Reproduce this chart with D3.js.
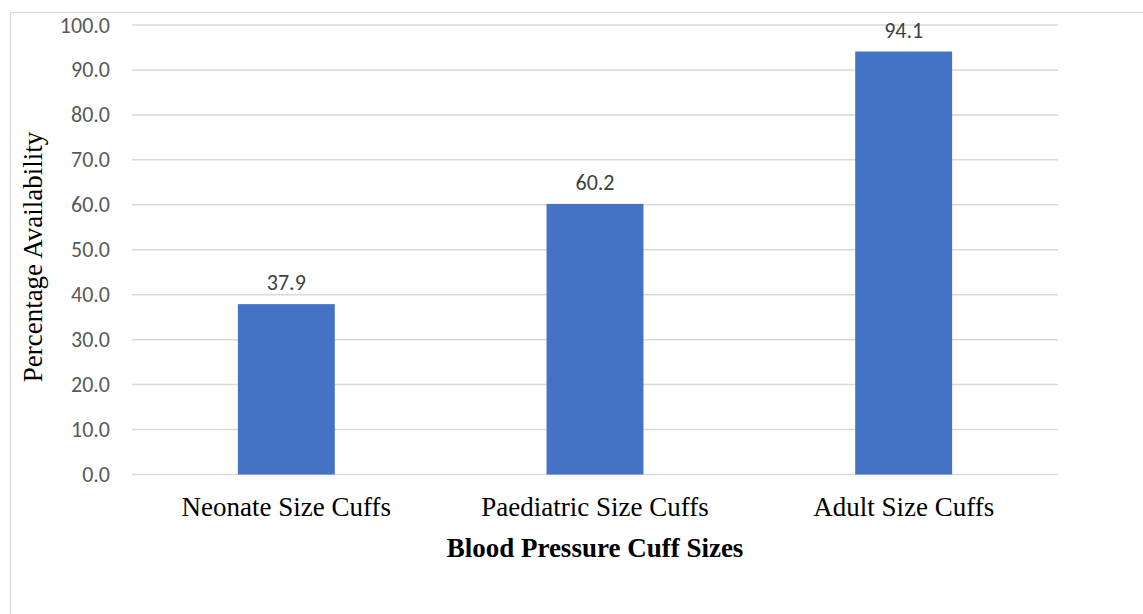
<!DOCTYPE html>
<html>
<head>
<meta charset="utf-8">
<script src="https://cdn.jsdelivr.net/npm/d3@7"></script>
<style>
  html, body { margin: 0; padding: 0; background: #ffffff; }
  svg { display: block; }
</style>
</head>
<body>
<svg id="chart" width="1143" height="614"></svg>
<script>
// Availability of blood pressure cuffs by size
const categories = ["Neonate Size Cuffs", "Paediatric Size Cuffs", "Adult Size Cuffs"];
const availability = [37.9, 60.2, 94.1];
const yTicks = [0, 10, 20, 30, 40, 50, 60, 70, 80, 90, 100];

const svg = d3.select("#chart");
const W = 1143, H = 614;
const sansFont = "Carlito, 'Open Sans', 'Liberation Sans', sans-serif";
const serifFont = "'Liberation Serif', 'Times New Roman', serif";

// outer frame of the chart
svg.append("rect")
  .attr("x", 10.5).attr("y", 12.5)
  .attr("width", W + 10).attr("height", H + 10)
  .attr("fill", "none").attr("stroke", "#d9d9d9").attr("stroke-width", 1.2);

const plot = { left: 132, right: 1058, top: 25, bottom: 474.5 };

const x = d3.scaleBand()
  .domain(categories)
  .range([plot.left, plot.right])
  .paddingInner(0.686)
  .paddingOuter(0.343);

const y = d3.scaleLinear()
  .domain([0, 100])
  .range([plot.bottom, plot.top]);

// horizontal gridlines
svg.append("g")
  .selectAll("line")
  .data(yTicks)
  .join("line")
  .attr("x1", plot.left).attr("x2", plot.right)
  .attr("y1", d => y(d)).attr("y2", d => y(d))
  .attr("stroke", "#d9d9d9").attr("stroke-width", 1.5);

// y tick labels
const yAxis = d3.axisLeft(y).tickValues(yTicks).tickFormat(d3.format(".1f")).tickSize(0).tickPadding(0);
const yg = svg.append("g").attr("transform", `translate(110,0)`).call(yAxis);
yg.select(".domain").remove();
yg.selectAll("text")
  .attr("font-family", sansFont)
  .attr("font-size", 22)
  .attr("fill", "#595959");

// bars
svg.append("g")
  .selectAll("rect")
  .data(categories)
  .join("rect")
  .attr("x", d => x(d))
  .attr("width", x.bandwidth())
  .attr("y", (d, i) => y(availability[i]))
  .attr("height", (d, i) => y(0) - y(availability[i]))
  .attr("fill", "#4472c4");

// value labels above bars
svg.append("g")
  .selectAll("text")
  .data(categories)
  .join("text")
  .attr("x", d => x(d) + x.bandwidth() / 2)
  .attr("y", (d, i) => y(availability[i]) - 14)
  .attr("text-anchor", "middle")
  .attr("font-family", sansFont)
  .attr("font-size", 22)
  .attr("fill", "#404040")
  .text((d, i) => availability[i].toFixed(1));

// category labels
const xAxis = d3.axisBottom(x).tickSize(0).tickPadding(0);
const xg = svg.append("g").attr("transform", `translate(0,${plot.bottom + 22})`).call(xAxis);
xg.select(".domain").remove();
xg.selectAll("text")
  .attr("font-family", serifFont)
  .attr("font-size", 27)
  .attr("fill", "#000");

// axis titles
svg.append("text")
  .attr("x", (plot.left + plot.right) / 2)
  .attr("y", 557)
  .attr("text-anchor", "middle")
  .attr("font-family", serifFont)
  .attr("font-size", 27)
  .attr("font-weight", "bold")
  .attr("fill", "#000")
  .text("Blood Pressure Cuff Sizes");

svg.append("text")
  .attr("transform", `translate(42,${257}) rotate(-90)`)
  .attr("text-anchor", "middle")
  .attr("font-family", serifFont)
  .attr("font-size", 27)
  .attr("fill", "#000")
  .text("Percentage Availability");
</script>
</body>
</html>
